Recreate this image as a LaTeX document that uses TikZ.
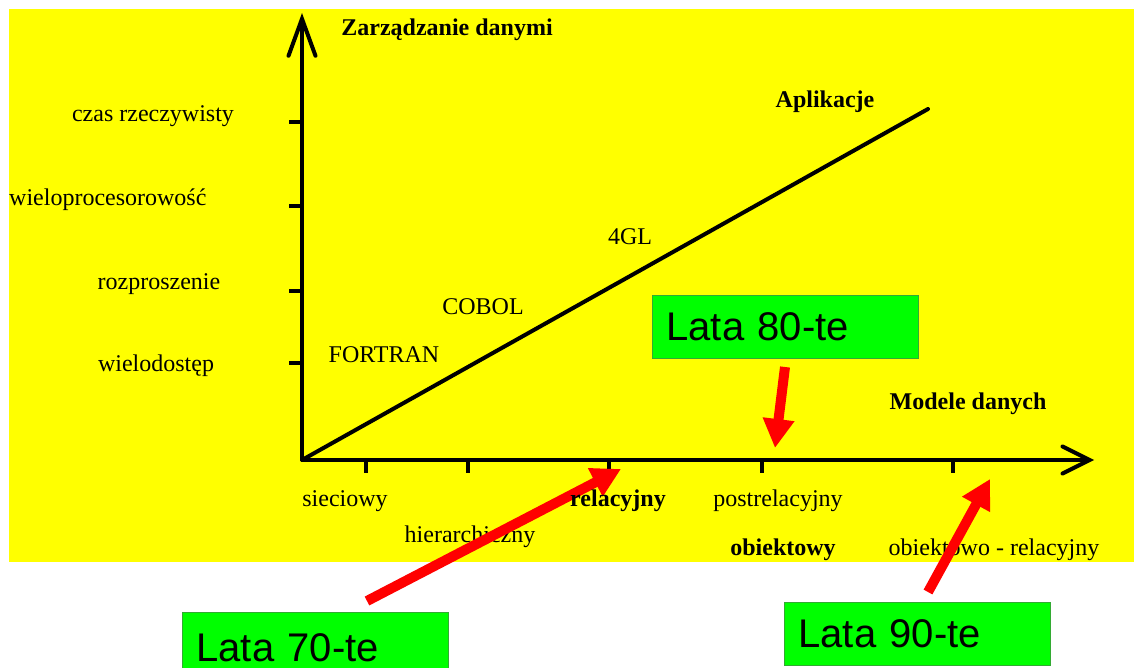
\documentclass[tikz,border=0pt]{standalone}
\usepackage{fontspec}
\setmainfont{Liberation Serif}
\newfontfamily\boxfont{Liberation Sans}
\usetikzlibrary{arrows.meta}
\definecolor{bgyellow}{HTML}{FFFF00}
\definecolor{boxgreen}{HTML}{00FF00}
\definecolor{boxedge}{HTML}{33AA33}
\definecolor{arrred}{HTML}{FF0000}
\begin{document}
\begin{tikzpicture}[x=1pt,y=-1pt,
  lbl/.style={font=\fontsize{24}{28}\selectfont, inner sep=0pt},
  blbl/.style={font=\fontsize{24}{28}\selectfont\bfseries, inner sep=0pt},
  axis/.style={line width=4pt, black},
  tickmark/.style={line width=4pt, black},
  era/.style={draw=boxedge, line width=1pt, fill=boxgreen, anchor=north west,
    minimum height=63pt, inner xsep=14pt, text width=238pt, align=left,
    font=\boxfont\fontsize{40}{44}\selectfont},
  redarrow/.style={draw=arrred, line width=10pt, -{Triangle[length=29pt,width=30pt]}}
]
\useasboundingbox (0,0) rectangle (1134,668);
\fill[bgyellow] (9,9) rectangle (1134,562);

% axes
\coordinate (O) at (302,460);
\coordinate (ytop) at (302,13);
\coordinate (xend) at (1094,460);
\coordinate (diag) at (928,109);
\draw[axis, -{Straight Barb[length=37pt,width=27pt,line cap=round]}] (O) -- (ytop);
\draw[axis, -{Straight Barb[length=27pt,width=27pt,line cap=round]}] (O) -- (xend);
\draw[axis, line cap=round] (O) -- (diag);

% y ticks
\foreach \yy in {122,206,291,363} \draw[tickmark] (289,\yy) -- (302,\yy);
% x ticks
\foreach \xx in {366,468,609,762,953} \draw[tickmark] (\xx,460) -- (\xx,473);

% axis titles
\node[blbl] (ztitle) at (447,30) {Zarządzanie danymi};
\node[blbl] (mtitle) at (968,404) {Modele danych};
\node[blbl] (apl) at (825,102) {Aplikacje};

% y labels
\node[lbl] (czas) at (153,116) {czas rzeczywisty};
\node[lbl, anchor=west] (wielop) at (9,200) {wieloprocesorowość};
\node[lbl] (rozp) at (159,284) {rozproszenie};
\node[lbl] (wielod) at (156,366) {wielodostęp};

% languages
\node[lbl] (fortran) at (384,355) {FORTRAN};
\node[lbl] (cobol) at (483,307) {COBOL};
\node[lbl] (gl) at (630,237) {4GL};

% x labels
\node[lbl] (siec) at (345,501) {sieciowy};
\node[lbl] (hier) at (470,537) {hierarchiczny};
\node[lbl] (postrel) at (778,501) {postrelacyjny};
\node[blbl] (obiekt) at (783,550) {obiektowy};
\node[lbl] (obrel) at (994,550) {obiektowo - relacyjny};

% green boxes
\node[era] (l80) at (652,295) {Lata 80-te};
\node[era, minimum height=70pt] (l70) at (182,612) {Lata 70-te};
\node[era] (l90) at (784,602) {Lata 90-te};

% red arrows
\coordinate (t70) at (367,601);
\coordinate (h70) at (621,469);
\coordinate (t80) at (785,367);
\coordinate (h80) at (775,448);
\coordinate (t90) at (928,592);
\coordinate (h90) at (990,479);
\draw[redarrow] (t70) -- (h70);
\draw[redarrow] (t80) -- (h80);
\draw[redarrow] (t90) -- (h90);

% label printed over the arrow
\node[blbl] (rel) at (618,501) {relacyjny};
\end{tikzpicture}
\end{document}
